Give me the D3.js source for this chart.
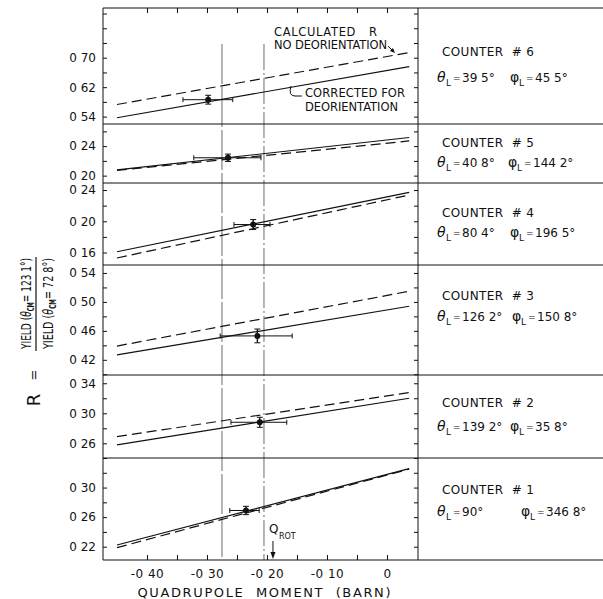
<!DOCTYPE html>
<html><head><meta charset="utf-8">
<script src="https://cdn.jsdelivr.net/npm/d3@7"></script>
<style>body{margin:0;background:#fff}svg{display:block}</style>
</head><body><svg id="c" width="603" height="599"></svg>
<script>
// ---------- data ----------
const counters = ["6","5","4","3","2","1"];
const thetaL = ["39 5°","40 8°","80 4°","126 2°","139 2°","90°"];
const phiL = ["45 5°","144 2°","196 5°","150 8°","35 8°","346 8°"];
const yDomains = [[0.52,0.835],[0.19,0.27],[0.144,0.249],[0.399,0.551],[0.2404,0.351],[0.202,0.34]];
const yTickLabels = [[0.54,0.62,0.70],[0.20,0.24],[0.16,0.20,0.24],[0.42,0.46,0.50,0.54],[0.26,0.30,0.34],[0.22,0.26,0.30]];
const yMinorStep = [0.04,0.02,0.02,0.02,0.02,0.02];
const lineQ = [-0.45, 0.037];
const calcStart = [0.573,0.207,0.153,0.439,0.2688,0.2187];
const calcEnd   = [0.714,0.247,0.2336,0.5147,0.3276,0.3250];
const corrStart = [0.537,0.2077,0.161,0.4269,0.258,0.2223];
const corrEnd   = [0.676,0.2517,0.237,0.494,0.320,0.3256];
const pointQ = [-0.298,-0.265,-0.223,-0.216,-0.212,-0.235];
const pointR = [0.586,0.2242,0.1958,0.453,0.288,0.269];
const qErrLo = [-0.34,-0.322,-0.255,-0.278,-0.26,-0.262];
const qErrHi = [-0.257,-0.21,-0.195,-0.158,-0.167,-0.213];
const rErr = [0.012,0.005,0.0064,0.0095,0.0067,0.0056];
const xTickLabels = [-0.40,-0.30,-0.20,-0.10,0];
const xTickLabelText = ["-0 40","-0 30","-0 20","-0 10","0"];
const xMinorTicks = [-0.40,-0.35,-0.30,-0.25,-0.20,-0.15,-0.10,-0.05,0];
const refLinesQ = [-0.275,-0.205];
const qRot = -0.19;

// ---------- layout ----------
const X0 = 103, X1 = 418, XR = 603;
const panelTop = [8,124,183,265,375,458], plotBottom = 560;
const counterY = [56,147,217,300,407,494];
const thetaY = [82,167,237,321,431,516];
const phiX = [510,508,510,512,510,521];
const FONT = "DejaVu Sans";
const NARROW = "'DejaVu Sans Condensed','Liberation Sans Narrow','DejaVu Sans',sans-serif";
const svg = d3.select("#c");
const x = d3.scaleLinear().domain([-0.4733,0.0517]).range([X0,X1]);
const ink = "#111";

// reference vertical lines
refLinesQ.forEach((q,k)=>{
  svg.append("line").attr("x1",x(q)).attr("x2",x(q)).attr("y1",44).attr("y2",plotBottom)
    .attr("stroke","#444").attr("stroke-width",0.8)
    .attr("stroke-dasharray", k===0 ? "40,3" : "26,3,2,3");
});

const fmtY = d => d.toFixed(2).replace("0.","0 ");

counters.forEach((c,i)=>{
  const y0 = panelTop[i], y1 = i<5 ? panelTop[i+1] : plotBottom;
  const y = d3.scaleLinear().domain(yDomains[i]).range([y1,y0]);
  const st = yMinorStep[i], base = yTickLabels[i][0];
  const vals = d3.range(Math.ceil((yDomains[i][0]-base)/st-1e-6), Math.floor((yDomains[i][1]-base)/st+1e-6)+1)
    .map(k=>+(base+k*st).toFixed(3));
  const isLab = d => yTickLabels[i].some(v=>Math.abs(v-d)<1e-6);
  const gl = svg.append("g").attr("transform",`translate(${X0},0)`)
    .call(d3.axisLeft(y).tickValues(vals).tickSize(-4).tickPadding(7).tickFormat(d=>isLab(d)?fmtY(d):""));
  gl.select(".domain").remove();
  gl.selectAll("line").attr("stroke",ink);
  gl.selectAll("text").attr("font-family",FONT).attr("font-size",12).attr("fill",ink);
  const gr = svg.append("g").attr("transform",`translate(${X1},0)`)
    .call(d3.axisRight(y).tickValues(vals).tickSize(-4).tickFormat(""));
  gr.select(".domain").remove();
  gr.selectAll("line").attr("stroke",ink);

  // calculated (dashed) and corrected (solid) lines
  const ln = d3.line().x(d=>x(d[0])).y(d=>y(d[1]));
  svg.append("path").attr("d", ln([[lineQ[0],calcStart[i]],[lineQ[1],calcEnd[i]]]))
    .attr("stroke",ink).attr("stroke-width",1.2).attr("fill","none").attr("stroke-dasharray","10,5");
  svg.append("path").attr("d", ln([[lineQ[0],corrStart[i]],[lineQ[1],corrEnd[i]]]))
    .attr("stroke",ink).attr("stroke-width",1.2).attr("fill","none");

  // error bars
  const px = x(pointQ[i]), py = y(pointR[i]);
  const eb = svg.append("g").attr("stroke",ink).attr("stroke-width",1);
  eb.append("line").attr("x1",x(qErrLo[i])).attr("x2",x(qErrHi[i])).attr("y1",py).attr("y2",py);
  [qErrLo[i],qErrHi[i]].forEach(q=>eb.append("line").attr("x1",x(q)).attr("x2",x(q)).attr("y1",py-2.5).attr("y2",py+2.5));
  const ya = y(pointR[i]+rErr[i]), yb = y(pointR[i]-rErr[i]);
  eb.append("line").attr("x1",px).attr("x2",px).attr("y1",ya).attr("y2",yb).attr("stroke-width",1.4);
  [ya,yb].forEach(yy=>eb.append("line").attr("x1",px-3).attr("x2",px+3).attr("y1",yy).attr("y2",yy));
  svg.append("circle").attr("cx",px).attr("cy",py).attr("r",3).attr("fill",ink);

  // counter text
  svg.append("text").attr("x",442).attr("y",counterY[i]).attr("font-family",FONT).attr("font-size",12)
    .attr("fill",ink).attr("textLength",92).attr("lengthAdjust","spacing")
    .style("white-space","pre").text("COUNTER  # "+c);
  const g = svg.append("g").attr("font-family",FONT).attr("fill",ink);
  const sym = (sx,ch,val)=>{
    g.append("text").attr("x",sx).attr("y",thetaY[i]).attr("font-size",14).attr("font-style",ch==="θ"?"italic":"normal").text(ch);
    g.append("text").attr("x",sx+9).attr("y",thetaY[i]+4).attr("font-size",9).text("L");
    g.append("text").attr("x",sx+16).attr("y",thetaY[i]-1).attr("font-size",9).text("=");
    g.append("text").attr("x",sx+25).attr("y",thetaY[i]).attr("font-size",12).text(val);
  };
  sym(437,"θ",thetaL[i]);
  sym(phiX[i],"φ",phiL[i]);
});

// frame & separators
const fr = svg.append("g").attr("stroke",ink).attr("stroke-width",1);
fr.append("line").attr("x1",X0).attr("x2",X0).attr("y1",panelTop[0]).attr("y2",plotBottom);
fr.append("line").attr("x1",X1).attr("x2",X1).attr("y1",panelTop[0]).attr("y2",plotBottom);
panelTop.concat([plotBottom]).forEach(yy=>fr.append("line").attr("x1",X0).attr("x2",XR).attr("y1",yy).attr("y2",yy));

// x axis (bottom) and top ticks
const gx = svg.append("g").attr("transform",`translate(0,${plotBottom})`)
  .call(d3.axisBottom(x).tickValues(xMinorTicks).tickSize(-5).tickPadding(9)
    .tickFormat(d=>{const k=xTickLabels.findIndex(v=>Math.abs(v-d)<1e-6);return k>=0?xTickLabelText[k]:"";}));
gx.select(".domain").remove();
gx.selectAll("line").attr("stroke",ink);
gx.selectAll("text").attr("font-family",FONT).attr("font-size",12).attr("fill",ink).attr("letter-spacing",0.5);
const gt = svg.append("g").attr("transform",`translate(0,${panelTop[0]})`)
  .call(d3.axisTop(x).tickValues(xMinorTicks).tickSize(-5).tickFormat(""));
gt.select(".domain").remove();
gt.selectAll("line").attr("stroke",ink);

svg.append("text").attr("x",264).attr("y",597).attr("text-anchor","middle").attr("font-family",FONT)
  .attr("font-size",13).attr("fill",ink).attr("textLength",253).attr("lengthAdjust","spacing")
  .style("white-space","pre").text("QUADRUPOLE  MOMENT  (BARN)");

// annotations top panel
const ann = (tx,ty,str,len)=>svg.append("text").attr("x",tx).attr("y",ty).attr("font-family",FONT).attr("font-size",11.5)
  .attr("fill",ink).attr("textLength",len).attr("lengthAdjust","spacing").style("white-space","pre").text(str);
ann(274,36,"CALCULATED   R",103);
ann(274,49,"NO DEORIENTATION",113);
ann(305,97,"CORRECTED FOR",100);
ann(305,111,"DEORIENTATION",93);
svg.append("path").attr("d","M388,46 L394,52").attr("stroke",ink).attr("stroke-width",1).attr("fill","none");
svg.append("path").attr("d","M395,53 L390,51 L393,48 Z").attr("fill",ink);
svg.append("path").attr("d","M291,86 Q288,96 295,96 L302,96").attr("stroke",ink).attr("stroke-width",1).attr("fill","none");

// Q_ROT
const xr = x(qRot);
svg.append("text").attr("x",xr-4).attr("y",533).attr("font-family",FONT).attr("font-size",12).attr("fill",ink).text("Q");
svg.append("text").attr("x",xr+6).attr("y",539).attr("font-family",FONT).attr("font-size",8).attr("fill",ink).text("ROT");
svg.append("line").attr("x1",xr).attr("x2",xr).attr("y1",541).attr("y2",556).attr("stroke",ink).attr("stroke-width",1);
svg.append("path").attr("d",`M${xr-2.5},552 L${xr+2.5},552 L${xr},559 Z`).attr("fill",ink);

// y label
const yl = svg.append("g").attr("transform","rotate(-90)").attr("font-family",FONT).attr("fill",ink);
yl.append("text").attr("x",-400).attr("y",40).attr("text-anchor","middle").attr("font-size",18).text("R");
yl.append("text").attr("x",-375).attr("y",38).attr("text-anchor","middle").attr("font-size",13).text("=");
yl.append("line").attr("x1",-351).attr("x2",-257).attr("y1",36).attr("y2",36).attr("stroke",ink).attr("stroke-width",1.2);
const frac = (ly,num)=>{
  const tt = yl.append("text").attr("x",-349).attr("y",ly).attr("font-size",14.5).attr("font-family",NARROW)
    .attr("textLength",91).attr("lengthAdjust","spacingAndGlyphs").style("white-space","pre");
  tt.append("tspan").text("YIELD (");
  tt.append("tspan").attr("font-style","italic").text("θ");
  tt.append("tspan").attr("font-size",8.5).attr("dy",3).attr("font-weight","bold").text("CM");
  tt.append("tspan").attr("dy",-3).text("= "+num+")");
};
frac(31,"123 1°");
frac(53,"72 8°");
</script></body></html>
